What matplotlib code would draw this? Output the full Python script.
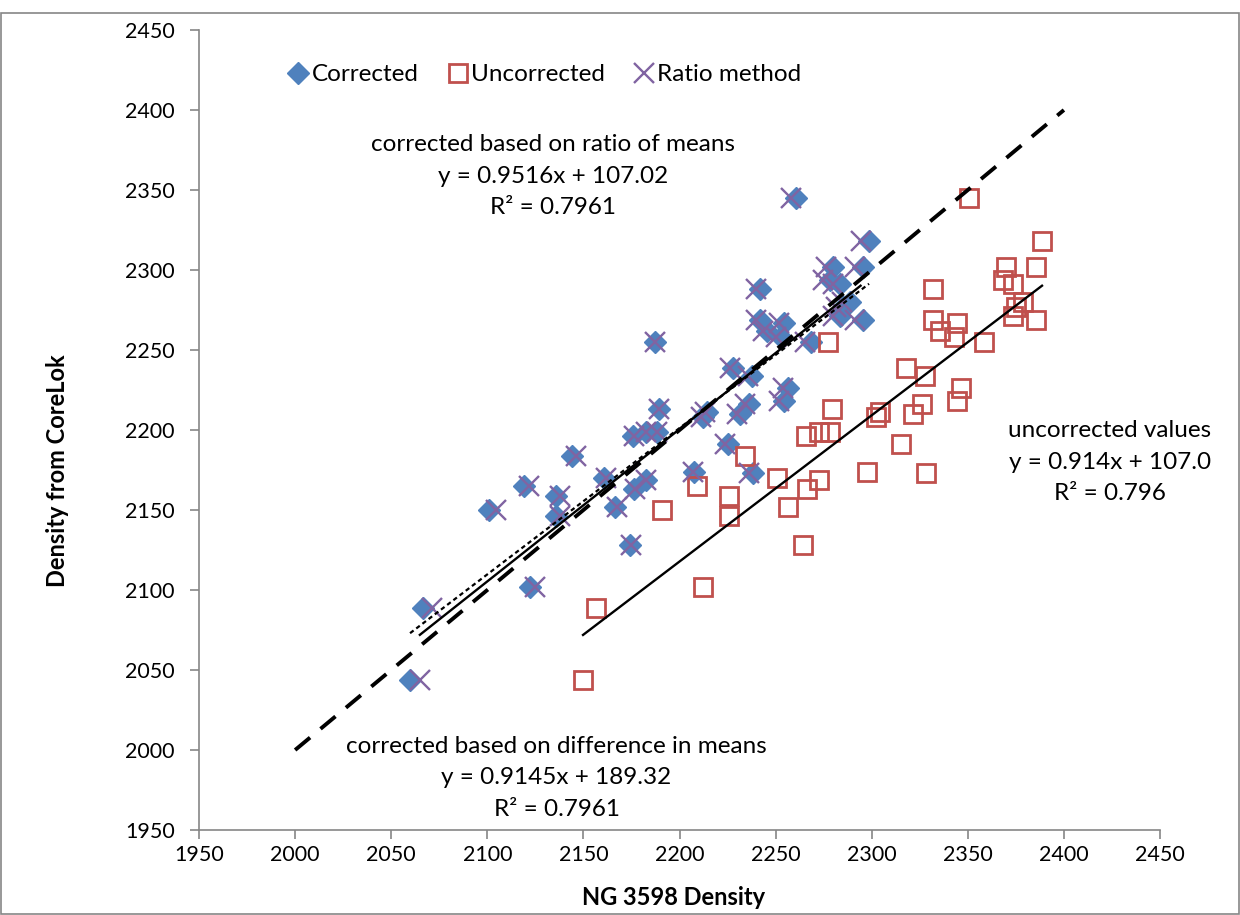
import matplotlib
matplotlib.use("Agg")
import matplotlib.pyplot as plt
from matplotlib.patches import Rectangle

plt.rcParams['font.family'] = ['Lato', 'DejaVu Sans']

# density from CoreLok (same for every series)
corelok = [2044, 2089, 2102, 2150, 2165, 2159, 2146, 2184, 2170, 2196,
           2199, 2199, 2213, 2152, 2163, 2169, 2128, 2255, 2269, 2262,
           2267, 2258, 2255, 2239, 2234, 2226, 2218, 2216, 2210, 2211,
           2208, 2191, 2174, 2173, 2345, 2318, 2302, 2302, 2294, 2291,
           2288, 2280, 2277, 2271, 2269]

# NG 3598 density, raw values
uncorrected = [2149.8, 2156.6, 2212.2, 2190.9, 2209.1, 2225.8, 2225.8, 2234.1, 2250.7, 2265.8,
               2272.6, 2278.3, 2279.4, 2256.4, 2266.3, 2272.6, 2264.3, 2277.3, 2331.9, 2335.5,
               2344.4, 2342.8, 2358.4, 2317.8, 2327.7, 2346.5, 2344.4, 2326.2, 2321.5, 2304.3,
               2302.2, 2315.2, 2297.6, 2328.3, 2350.6, 2388.6, 2369.9, 2385.5, 2368.3, 2373.5,
               2331.9, 2378.7, 2375.1, 2373.5, 2385.5]

# corrected on difference in means
corrected = [2059.8, 2066.6, 2122.2, 2100.9, 2119.1, 2135.8, 2135.8, 2144.1, 2160.7, 2175.8,
             2182.6, 2188.3, 2189.4, 2166.4, 2176.3, 2182.6, 2174.3, 2187.3, 2241.9, 2245.5,
             2254.4, 2252.8, 2268.4, 2227.8, 2237.7, 2256.5, 2254.4, 2236.2, 2231.5, 2214.3,
             2212.2, 2225.2, 2207.6, 2238.3, 2260.6, 2298.6, 2279.9, 2295.5, 2278.3, 2283.5,
             2241.9, 2288.7, 2285.1, 2283.5, 2295.5]

# corrected on ratio of means
ratio = [2064.9, 2071.4, 2124.8, 2104.4, 2121.8, 2137.9, 2137.9, 2145.9, 2161.8, 2176.3,
         2182.8, 2188.3, 2189.4, 2167.3, 2176.8, 2182.8, 2174.9, 2187.3, 2239.8, 2243.2,
         2251.8, 2250.3, 2265.2, 2226.2, 2235.8, 2253.8, 2251.8, 2234.3, 2229.8, 2213.3,
         2211.3, 2223.7, 2206.8, 2236.3, 2257.8, 2294.2, 2276.3, 2291.3, 2274.8, 2279.7,
         2239.8, 2284.7, 2281.3, 2279.7, 2291.3]

one_to_one = [2000, 2400]

# trendlines (slope, intercept)
fit_uncorr = (0.914, 107.0)
fit_diff = (0.9145, 189.32)
fit_ratio = (0.9516, 107.02)

blue = '#4F81BD'
red = '#C0504D'
purple = '#8064A2'
grey = '#868686'

fig = plt.figure(figsize=(12.4, 9.15), dpi=100)
ax = fig.add_axes([0.1605, 0.0929, 0.775, 0.8743])

ax.plot(corrected, corelok, linestyle='none', marker='D', ms=11.5, color=blue,
        mec=blue, label='Corrected', zorder=3)
ax.plot(uncorrected, corelok, linestyle='none', marker='s', ms=13, mfc='none',
        mec=red, mew=2, label='Uncorrected', zorder=3)
ax.plot(ratio, corelok, linestyle='none', marker='x', ms=15, mec=purple,
        mew=1.7, label='Ratio method', zorder=4)


def trend(xs, fit):
    x0, x1 = min(xs), max(xs)
    return [x0, x1], [fit[0] * x0 + fit[1], fit[0] * x1 + fit[1]]


tx, ty = trend(uncorrected, fit_uncorr)
ax.plot(tx, ty, color='black', lw=1.7, zorder=5)
tx, ty = trend(ratio, fit_ratio)
ax.plot(tx, ty, color='black', lw=1.7, zorder=5)
tx, ty = trend(corrected, fit_diff)
ax.plot(tx, ty, color='black', lw=1.6, ls=(0, (2, 1.5)), zorder=5)

ax.plot(one_to_one, one_to_one, color='black', lw=2.8, ls=(0, (5, 3.5)), zorder=5)

ax.set_xlim(1950, 2450)
ax.set_ylim(1950, 2450)
ax.set_xticks(range(1950, 2451, 50))
ax.set_yticks(range(1950, 2451, 50))
for s in ['top', 'right']:
    ax.spines[s].set_visible(False)
for s in ['left', 'bottom']:
    ax.spines[s].set_color(grey)
    ax.spines[s].set_linewidth(1.2)
ax.tick_params(direction='out', length=6.5, width=1.2, color=grey, labelsize=15.5)
ax.tick_params(axis='y', pad=11)
ax.tick_params(axis='x', pad=4)

ax.set_xlabel('NG 3598 Density', fontsize=17, fontweight='bold', va='center')
ax.xaxis.set_label_coords(0.494, -0.085)
ax.set_ylabel('Density from CoreLok', fontsize=17, fontweight='bold', va='center')
ax.yaxis.set_label_coords(-0.147, 0.449)

leg = ax.legend(loc='center left', bbox_to_anchor=(0.082, 0.944), ncol=3, frameon=False,
                fontsize=17.5, handletextpad=0.1, columnspacing=1.15,
                handlelength=0.9, borderaxespad=0)

tkw = dict(fontsize=17.5, ha='center', va='center', linespacing=1.62, clip_on=False)
ax.text(2134, 2358.5, 'corrected based on ratio of means\ny = 0.9516x + 107.02\nR² = 0.7961', **tkw)
ax.text(2424, 2180, 'uncorrected values\ny = 0.914x + 107.0\nR² = 0.796', **tkw)
ax.text(2136, 1982.5, 'corrected based on difference in means\ny = 0.9145x + 189.32\nR² = 0.7961', **tkw)

fig.patches.append(Rectangle((0.0008, 0.001), 0.998, 0.985, transform=fig.transFigure,
                             fill=False, edgecolor=grey, lw=1.2))

fig.savefig('out.png', dpi=100)
